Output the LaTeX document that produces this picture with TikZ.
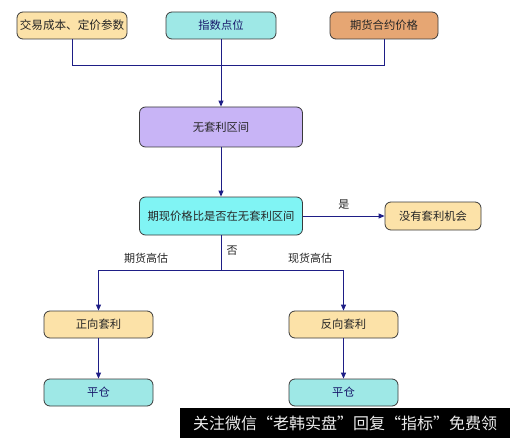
\documentclass[tikz,border=0pt]{standalone}
\usepackage{fontspec}
\newfontfamily\cjk{Noto Sans CJK SC}
\usetikzlibrary{arrows.meta}
\definecolor{navy}{HTML}{1E1E86}
\definecolor{boxline}{HTML}{3A3A3A}
\definecolor{cream}{HTML}{FCE2A8}
\definecolor{aqua}{HTML}{9EE8E6}
\definecolor{tan}{HTML}{E6A673}
\definecolor{lavender}{HTML}{C8B4F6}
\definecolor{cyanbox}{HTML}{80F4F4}
\tikzset{
  fbox/.style={draw=boxline, line width=0.8pt, rounded corners=6pt, inner sep=0pt,
    font=\cjk\fontsize{11.3}{13}\selectfont, text=black!85},
  conn/.style={draw=navy, line width=1pt},
  arr/.style={conn, -{Triangle[length=6pt,width=5pt]}},
  lbl/.style={font=\cjk\fontsize{11}{13}\selectfont, text=black!85, inner sep=1pt},
}
\begin{document}
\begin{tikzpicture}[x=1pt,y=-1pt]
\useasboundingbox (0,0) rectangle (510,438);
\fill[white] (0,0) rectangle (510,438);
% top row
\node[fbox, fill=cream, minimum width=110pt, minimum height=27pt, font=\cjk\fontsize{11.6}{13}\selectfont] (cost) at (72,25.5) {交易成本、定价参数};
\node[fbox, fill=aqua, minimum width=110pt, minimum height=27pt, text=navy!80!black] (idx) at (221,25.5) {指数点位};
\node[fbox, fill=tan, minimum width=108pt, minimum height=27pt] (fut) at (384,25.5) {期货合约价格};
% middle
\node[fbox, fill=lavender, minimum width=163pt, minimum height=40pt] (nz) at (221,127) {无套利区间};
\node[fbox, fill=cyanbox, minimum width=163pt, minimum height=38pt] (q) at (221,216) {期现价格比是否在无套利区间};
\node[fbox, fill=cream, minimum width=96pt, minimum height=28pt] (none) at (433,216) {没有套利机会};
% bottom
\node[fbox, fill=cream, minimum width=109pt, minimum height=27pt] (pos) at (98.5,324.5) {正向套利};
\node[fbox, fill=cream, minimum width=109pt, minimum height=27pt] (neg) at (343.5,324.5) {反向套利};
\node[fbox, fill=aqua, minimum width=109pt, minimum height=27pt, text=navy!80!black] (c1) at (98.5,392.5) {平仓};
\node[fbox, fill=aqua, minimum width=109pt, minimum height=27pt, text=navy!80!black] (c2) at (343.5,392.5) {平仓};
% connectors
\coordinate (jl) at (72,66);
\coordinate (jr) at (384,66);
\coordinate (split) at (221,270);
\coordinate (sl) at (98.5,270);
\coordinate (sr) at (343.5,270);
\draw[conn] (cost.south) -- (jl) -- (jr) -- (fut.south);
\draw[arr] (idx.south) -- (nz.north);
\draw[arr] (nz.south) -- (q.north);
\draw[arr] (q.east) -- (none.west) node[lbl, midway, above=5pt] {是};
\draw[conn] (q.south) -- (split) node[lbl, pos=0.45, right=4pt] {否};
\draw[arr] (split) -- (sl) -- (pos.north);
\draw[arr] (split) -- (sr) -- (neg.north);
\node[lbl] at (146,258) {期货高估};
\node[lbl] at (310,258) {现货高估};
\draw[arr] (pos.south) -- (c1.north);
\draw[arr] (neg.south) -- (c2.north);
% watermark banner
\fill[black] (180,408) rectangle (510,438);
\node[font=\cjk\fontsize{16}{18}\selectfont, text=white!92!black, inner sep=0pt] (wm) at (345,423) {关注微信“老韩实盘”回复“指标”免费领};
\end{tikzpicture}
\end{document}
